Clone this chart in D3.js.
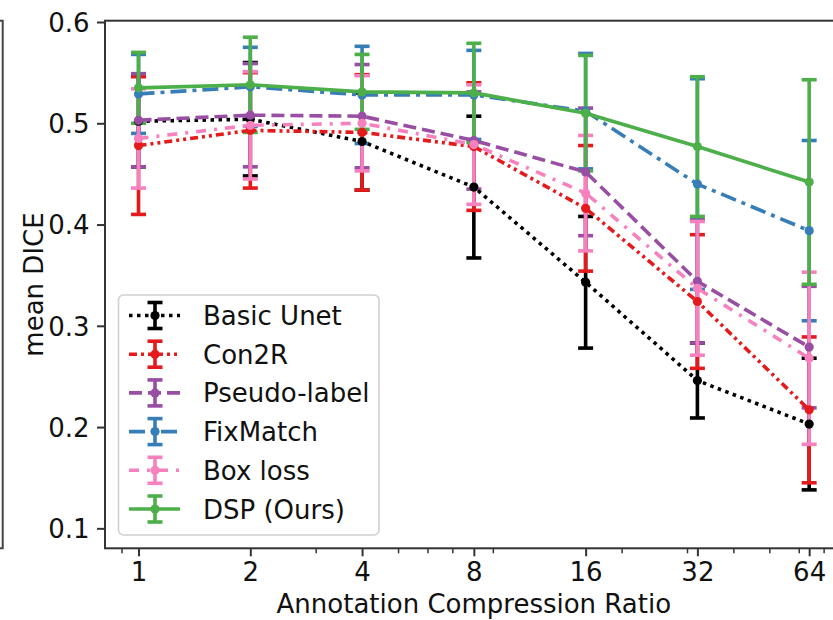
<!DOCTYPE html>
<html>
<head>
<meta charset="utf-8">
<script src="https://cdn.jsdelivr.net/npm/d3@7"></script>
<style>
  html, body { margin: 0; padding: 0; background: #fff; }
  svg { display: block; }
  text { font-family: "DejaVu Sans", sans-serif; fill: #111; }
</style>
</head>
<body>
<svg id="chart" width="833" height="620"></svg>
<script>
// Annotation compression ratios (x, log2 axis)
const ratios = [1, 2, 4, 8, 16, 32, 64];
const minorTicks = [0.9, 3, 5, 6, 7, 9, 20, 30, 40, 50, 60, 70];
const yTicks = [0.1, 0.2, 0.3, 0.4, 0.5, 0.6];

// Method names, in plotting / legend order
const methods = ["Basic Unet", "Con2R", "Pseudo-label", "FixMatch", "Box loss", "DSP (Ours)"];

// mean DICE per ratio, and the error half-width per ratio
const basicUnetMean = [0.502, 0.504, 0.482, 0.437, 0.343, 0.246, 0.203];
const basicUnetErr  = [0.045, 0.056, 0.048, 0.070, 0.065, 0.037, 0.065];
const con2rMean     = [0.478, 0.493, 0.491, 0.477, 0.416, 0.324, 0.217];
const con2rErr      = [0.068, 0.057, 0.057, 0.063, 0.062, 0.066, 0.072];
const pseudoMean    = [0.503, 0.508, 0.507, 0.483, 0.452, 0.344, 0.279];
const pseudoErr     = [0.046, 0.051, 0.051, 0.048, 0.063, 0.061, 0.060];
const fixMatchMean  = [0.529, 0.536, 0.528, 0.528, 0.512, 0.440, 0.394];
const fixMatchErr   = [0.039, 0.039, 0.048, 0.044, 0.057, 0.104, 0.089];
const boxLossMean   = [0.485, 0.498, 0.500, 0.479, 0.431, 0.337, 0.268];
const boxLossErr    = [0.049, 0.053, 0.047, 0.059, 0.057, 0.066, 0.085];
const dspMean       = [0.535, 0.538, 0.531, 0.530, 0.510, 0.477, 0.442];
const dspErr        = [0.035, 0.047, 0.037, 0.049, 0.057, 0.069, 0.101];

const colors = ["#000000", "#e41a1c", "#984ea3", "#377eb8", "#f781bf", "#4daf4a"];
const dashes = ["3.5,4.5", "8,4,3,4,3,4", "13,6", "16,6,4,6", "10,8,3,8", null];

const means = [basicUnetMean, con2rMean, pseudoMean, fixMatchMean, boxLossMean, dspMean];
const errs  = [basicUnetErr, con2rErr, pseudoErr, fixMatchErr, boxLossErr, dspErr];

const series = methods.map((name, i) => ({
  name, color: colors[i], dash: dashes[i],
  points: ratios.map((r, j) => ({ r, v: means[i][j], e: errs[i][j] }))
}));

const LW = 3.6, CAP = 7.5, MR = 4.6, FS = 26;

const svg = d3.select("#chart");
const plot = { left: 105, right: 842.7, top: 20.7, bottom: 548.3 };

const x = d3.scaleLog().base(2)
  .domain([Math.pow(2, -0.3), Math.pow(2, 6.3)])
  .range([plot.left, plot.right]);
const y = d3.scaleLinear()
  .domain([0.0803, 0.6013])
  .range([plot.bottom, plot.top]);

// frame edge of the neighbouring panel
svg.append("path")
  .attr("d", `M0,${plot.top} H2.7 V${plot.bottom} H0`)
  .attr("fill", "none").attr("stroke", "#444").attr("stroke-width", 2);

// axes
const xMajor = svg.append("g")
  .attr("transform", `translate(0,${plot.bottom})`)
  .call(d3.axisBottom(x).tickValues(ratios).tickFormat(d3.format("d"))
    .tickSize(8).tickPadding(6.5));
const xMinor = svg.append("g")
  .attr("transform", `translate(0,${plot.bottom})`)
  .call(d3.axisBottom(x).tickValues(minorTicks.filter(v => x(v) >= plot.left && x(v) <= plot.right))
    .tickFormat("").tickSize(5));
const yAxis = svg.append("g")
  .attr("transform", `translate(${plot.left},0)`)
  .call(d3.axisLeft(y).tickValues(yTicks).tickFormat(d3.format(".1f"))
    .tickSize(8).tickPadding(7.5));

[xMajor, xMinor, yAxis].forEach(g => {
  g.select(".domain").remove();
  g.selectAll(".tick line").attr("stroke", "#333").attr("stroke-width", 2);
  g.selectAll(".tick text").attr("font-size", FS).attr("fill", "#111")
    .attr("font-family", "DejaVu Sans, sans-serif");
});
xMinor.selectAll(".tick line").attr("stroke-width", 1.5);
yAxis.selectAll(".tick text").attr("dy", "0.36em");

// spines
svg.append("rect")
  .attr("x", plot.left).attr("y", plot.top)
  .attr("width", plot.right - plot.left).attr("height", plot.bottom - plot.top)
  .attr("fill", "none").attr("stroke", "#333").attr("stroke-width", 2);

// axis titles
svg.append("text")
  .attr("x", (plot.left + plot.right) / 2).attr("y", 613)
  .attr("text-anchor", "middle").attr("font-size", FS)
  .text("Annotation Compression Ratio");
svg.append("text")
  .attr("transform", `translate(43,${(plot.top + plot.bottom) / 2}) rotate(-90)`)
  .attr("text-anchor", "middle").attr("font-size", FS)
  .text("mean DICE");

// error bars (all series first, lines and markers above them)
const bars = svg.append("g");
series.forEach(s => {
  const g = bars.append("g");
  g.selectAll("line.bar").data(s.points).join("line")
    .attr("x1", d => x(d.r)).attr("x2", d => x(d.r))
    .attr("y1", d => y(d.v - d.e)).attr("y2", d => y(d.v + d.e))
    .attr("stroke", s.color).attr("stroke-width", LW);
  ["lo", "hi"].forEach(k => {
    g.selectAll("line.cap" + k).data(s.points).join("line")
      .attr("x1", d => x(d.r) - CAP).attr("x2", d => x(d.r) + CAP)
      .attr("y1", d => y(k === "lo" ? d.v - d.e : d.v + d.e))
      .attr("y2", d => y(k === "lo" ? d.v - d.e : d.v + d.e))
      .attr("stroke", s.color).attr("stroke-width", LW);
  });
});

const line = d3.line().x(d => x(d.r)).y(d => y(d.v));
const lines = svg.append("g");
series.forEach(s => {
  lines.append("path").datum(s.points)
    .attr("d", line).attr("fill", "none")
    .attr("stroke", s.color).attr("stroke-width", LW)
    .attr("stroke-dasharray", s.dash);
  lines.append("g").selectAll("circle").data(s.points).join("circle")
    .attr("cx", d => x(d.r)).attr("cy", d => y(d.v)).attr("r", MR)
    .attr("fill", s.color);
});

// legend
const lg = svg.append("g");
lg.append("rect")
  .attr("x", 118.5).attr("y", 295).attr("width", 260.5).attr("height", 240)
  .attr("rx", 5).attr("fill", "#fff").attr("fill-opacity", 0.8)
  .attr("stroke", "#d0d0d0").attr("stroke-width", 1.6);
series.forEach((s, i) => {
  const cy = 315.5 + i * 38.7;
  const hx0 = 129, hx1 = 180, hc = 155;
  const row = lg.append("g");
  row.append("line").attr("x1", hx0).attr("x2", hx1).attr("y1", cy).attr("y2", cy)
    .attr("stroke", s.color).attr("stroke-width", LW).attr("stroke-dasharray", s.dash);
  row.append("line").attr("x1", hc).attr("x2", hc).attr("y1", cy - 13).attr("y2", cy + 13)
    .attr("stroke", s.color).attr("stroke-width", LW);
  [-13, 13].forEach(o => row.append("line")
    .attr("x1", hc - CAP).attr("x2", hc + CAP).attr("y1", cy + o).attr("y2", cy + o)
    .attr("stroke", s.color).attr("stroke-width", LW));
  row.append("circle").attr("cx", hc).attr("cy", cy).attr("r", MR).attr("fill", s.color);
  row.append("text").attr("x", 203).attr("y", cy + 9.5)
    .attr("font-size", FS).text(s.name);
});
</script>
</body>
</html>
